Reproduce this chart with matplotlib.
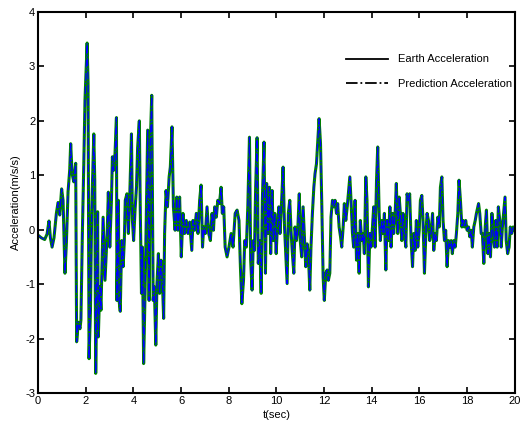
import numpy as np
import matplotlib.pyplot as plt
from matplotlib.lines import Line2D

plt.rcParams['font.family'] = ['Liberation Sans', 'DejaVu Sans']
plt.rcParams['axes.unicode_minus'] = False

# time (sec) and ground acceleration (m/s/s)
t = [0.0, 0.14, 0.28, 0.38, 0.46, 0.52, 0.59, 0.67, 0.77, 0.84, 0.91, 0.99,
     1.05, 1.13, 1.19, 1.26, 1.33, 1.37, 1.43, 1.50, 1.58, 1.62, 1.69, 1.76,
     1.80, 1.86, 1.92, 1.97, 2.06, 2.10, 2.14, 2.20, 2.25, 2.34, 2.38, 2.42,
     2.46, 2.50, 2.53, 2.59, 2.64, 2.73, 2.81, 2.90, 2.95, 3.01, 3.08, 3.12,
     3.17, 3.23, 3.29, 3.31, 3.37, 3.40, 3.45, 3.51, 3.57, 3.62, 3.66, 3.73,
     3.79, 3.85, 3.92, 3.96, 4.01, 4.07, 4.13, 4.18, 4.25, 4.29, 4.34, 4.38,
     4.43, 4.49, 4.55, 4.60, 4.66, 4.71, 4.77, 4.83, 4.88, 4.94, 4.99, 5.05,
     5.10, 5.16, 5.22, 5.27, 5.31, 5.37, 5.43, 5.50, 5.55, 5.62, 5.68, 5.75,
     5.82, 5.87, 5.94, 6.01, 6.08, 6.15, 6.22, 6.29, 6.36, 6.45, 6.50, 6.57,
     6.64, 6.71, 6.78, 6.84, 6.90, 6.95, 7.02, 7.09, 7.16, 7.23, 7.30, 7.36,
     7.41, 7.48, 7.54, 7.61, 7.68, 7.73, 7.79, 7.85, 7.93, 8.01, 8.10, 8.18,
     8.27, 8.35, 8.43, 8.49, 8.55, 8.62, 8.67, 8.74, 8.80, 8.87, 8.92, 8.98,
     9.03, 9.08, 9.13, 9.19, 9.24, 9.30, 9.36, 9.41, 9.48, 9.54, 9.59, 9.65,
     9.71, 9.76, 9.82, 9.87, 9.93, 9.99, 10.04, 10.10, 10.15, 10.22, 10.28,
     10.34, 10.39, 10.45, 10.50, 10.56, 10.62, 10.67, 10.73, 10.78, 10.84,
     10.90, 10.96, 11.00, 11.06, 11.12, 11.17, 11.23, 11.29, 11.34, 11.40,
     11.45, 11.51, 11.57, 11.62, 11.68, 11.73, 11.79, 11.85, 11.90, 11.96,
     12.01, 12.07, 12.13, 12.18, 12.24, 12.29, 12.35, 12.41, 12.46, 12.52,
     12.57, 12.63, 12.69, 12.74, 12.80, 12.85, 12.91, 12.97, 13.02, 13.08,
     13.13, 13.19, 13.24, 13.30, 13.36, 13.41, 13.47, 13.52, 13.58, 13.64,
     13.69, 13.75, 13.80, 13.86, 13.92, 13.97, 14.03, 14.08, 14.14, 14.20,
     14.25, 14.31, 14.36, 14.42, 14.48, 14.53, 14.59, 14.64, 14.70, 14.76,
     14.81, 14.87, 14.92, 14.98, 15.03, 15.09, 15.15, 15.20, 15.26, 15.31,
     15.37, 15.43, 15.48, 15.54, 15.59, 15.65, 15.71, 15.76, 15.82, 15.87,
     15.93, 15.99, 16.04, 16.10, 16.15, 16.21, 16.27, 16.32, 16.38, 16.43,
     16.50, 16.55, 16.60, 16.66, 16.71, 16.77, 16.83, 16.88, 16.94, 16.99,
     17.05, 17.10, 17.16, 17.22, 17.27, 17.33, 17.38, 17.44, 17.50, 17.55,
     17.61, 17.66, 17.72, 17.78, 17.83, 17.89, 17.94, 18.00, 18.06, 18.11,
     18.17, 18.22, 18.28, 18.34, 18.39, 18.48, 18.53, 18.59, 18.64, 18.70,
     18.76, 18.81, 18.87, 18.93, 18.98, 19.04, 19.09, 19.15, 19.20, 19.26,
     19.31, 19.37, 19.43, 19.48, 19.53, 19.59, 19.64, 19.70, 19.76, 19.81,
     19.87, 19.93, 20.0]

acc = [-0.10, -0.15, -0.18, -0.08, 0.16, -0.15, -0.32, -0.15, 0.30, 0.50, 0.27, 0.75,
       0.54, -0.80, -0.25, 0.70, 1.10, 1.58, 1.03, 0.88, 1.22, -2.06, -1.70, -1.82,
       -1.66, -0.07, 1.21, 2.38, 3.43, 2.68, -2.37, -1.48, 0.30, 1.76, 0.91, -2.64,
       -1.17, 0.33, -1.97, -1.05, -1.48, 0.23, -0.93, -0.07, 0.69, -0.32, 0.54, 1.34,
       1.09, 1.40, 2.06, -1.30, 0.54, -1.30, -1.50, -0.20, -0.68, -0.20, 0.54, 0.66,
       -0.07, 0.66, 1.76, 0.17, -0.20, 0.36, 0.78, 1.52, 2.00, 0.36, -1.17, -0.32,
       -2.46, -1.17, 0.42, 1.83, -1.30, 1.58, 2.47, -1.30, -1.05, -2.12, -0.99, -0.44,
       -1.17, -0.56, -0.99, -1.63, -0.07, 0.72, 0.42, 0.97, 1.15, 1.89, 0.42, -0.01,
       0.60, -0.01, 0.60, -0.50, 0.30, -0.07, 0.17, -0.07, 0.14, -0.38, 0.17, -0.01,
       0.30, -0.07, 0.54, 0.82, -0.32, 0.05, -0.07, 0.42, -0.07, -0.20, 0.30, -0.01,
       0.42, 0.23, 0.54, 0.48, 0.78, 0.30, 0.42, -0.32, -0.50, -0.32, -0.07, -0.32,
       0.30, 0.36, 0.17, -0.68, -1.36, -0.93, -0.20, -0.32, 0.42, 1.70, -0.56, -1.11,
       -0.20, -0.38, 0.78, 1.69, -0.62, -0.20, -1.17, 0.54, 1.61, -0.80, 0.85, -0.07,
       0.78, -0.44, 0.72, -0.20, 0.30, -0.44, 0.05, 0.42, -0.07, 0.54, 1.15,
       0.05, -0.44, -0.99, 0.30, 0.54, -0.07, -0.44, -0.80, 0.05, -0.20,
       0.05, 0.66, -0.20, -0.50, 0.42, -0.07, -0.68, -0.26, -0.44, -1.11,
       -0.32, 0.30, 0.78, 1.03, 1.21, 1.58, 2.04, 1.58, 0.54, -0.87,
       -1.30, -0.80, -0.74, -0.93, -0.80, 0.23, 0.54, 0.42, 0.54, 0.30,
       0.48, 0.05, -0.13, -0.32, 0.05, 0.48, 0.17, 0.42, 0.66, 0.97,
       0.54, -0.07, -0.32, 0.54, -0.56, -0.07, -0.80, 0.17, -0.20, -0.07,
       -0.44, 0.97, 0.54, -1.05, -0.07, -0.32, 0.05, 0.42, -0.32, 0.91,
       1.52, 0.30, -0.20, 0.17, -0.07, 0.30, -0.74, 0.17, -0.20, 0.42,
       -0.32, 0.30, -0.07, 0.30, 0.85, -0.07, 0.60, 0.30, -0.20, 0.30,
       -0.07, -0.32, 0.66, 0.54, 0.66, -0.20, -0.68, -0.07, -0.38, 0.17,
       -0.32, -0.01, 0.54, 0.63, 0.17, -0.80, -0.07, 0.30, 0.17, -0.20,
       -0.01, 0.30, -0.38, -0.07, -0.20, 0.23, 0.05, 0.78, 0.97, 0.17,
       -0.20, -0.01, -0.68, -0.20, -0.32, -0.20, -0.44, -0.20, -0.32, -0.07,
       0.30, 0.91, 0.54, 0.05, 0.17, 0.05, 0.17, -0.01, 0.05, -0.13,
       -0.01, -0.32, 0.05, 0.17, 0.30, 0.48, 0.30, -0.07, -0.07, -0.62,
       0.05, 0.36, -0.44, -0.07, -0.50, 0.30, -0.07, -0.32, 0.17, -0.32,
       0.42, 0.17, -0.32, 0.05, 0.30, 0.60, -0.20, -0.44, -0.32, 0.05,
       -0.07, 0.05, -0.01]

fig = plt.figure(figsize=(5.28, 4.29), dpi=100)
ax = fig.add_axes([0.072, 0.084, 0.903, 0.888])

ax.plot(t, acc, color='#008000', linewidth=2.2, solid_joinstyle='round')
ax.plot(t, acc, color='#0000ff', linewidth=0.9, linestyle='-.')

ax.set_xlim(0, 20)
ax.set_ylim(-3, 4)
ax.set_xticks(np.arange(0, 21, 2))
ax.set_yticks(np.arange(-3, 5, 1))
ax.tick_params(direction='in', top=True, right=True, labelsize=8, length=4, width=1.2, pad=2)
for s in ax.spines.values():
    s.set_linewidth(1.5)

ax.set_xlabel('t(sec)', fontsize=8, labelpad=3)
ax.set_ylabel('Acceleration(m/s/s)', fontsize=8, labelpad=3)

handles = [Line2D([], [], color='k', linewidth=1.3, linestyle='-'),
           Line2D([], [], color='k', linewidth=1.3, linestyle='-.')]
ax.legend(handles, ['Earth Acceleration', 'Prediction Acceleration'],
          loc='upper right', bbox_to_anchor=(1.015, 0.915), frameon=False,
          fontsize=8, handlelength=3.8, handletextpad=0.9, labelspacing=1.3)

fig.savefig('out.png', dpi=100)
